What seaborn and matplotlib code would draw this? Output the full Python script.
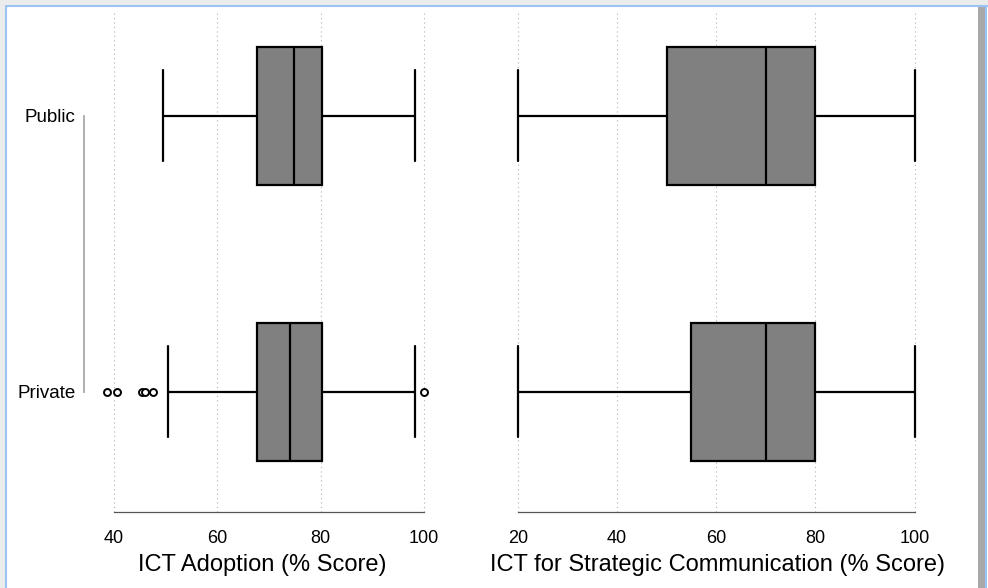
import pandas as pd
import matplotlib.pyplot as plt
import seaborn as sns
from matplotlib.patches import Rectangle
from matplotlib.lines import Line2D

groups = ["Public", "Private"]

adopt_public = [49.5, 67.6, 74.8, 80.2, 98.3]
adopt_private = [38.6, 40.5, 45.5, 46.1, 47.6, 50.5,
                 67.6, 67.6, 67.6,
                 74.0, 74.0, 74.0, 74.0, 74.0, 74.0, 74.0,
                 80.2, 80.2, 80.2, 80.2, 80.2, 80.2, 80.2,
                 98.2, 100.0]

# ICT for strategic communication (% score)
comm_public = [20, 50, 70, 80, 100]
comm_private = [20, 55, 70, 80, 100]

adopt_ticks = [40, 60, 80, 100]
comm_ticks = [20, 40, 60, 80, 100]


def long_df(public, private):
    return pd.DataFrame({
        "group": ["Public"] * len(public) + ["Private"] * len(private),
        "score": list(public) + list(private),
    })


sns.set_style("white")
plt.rcParams["font.family"] = ["Liberation Sans", "DejaVu Sans"]
plt.rcParams["text.color"] = "black"
plt.rcParams["axes.labelcolor"] = "black"
plt.rcParams["xtick.labelcolor"] = "black"
plt.rcParams["ytick.labelcolor"] = "black"

fig = plt.figure(figsize=(9.88, 5.88), dpi=100)

# window frame around the graph
fig.patches.append(Rectangle((0, 0), 1, 1, transform=fig.transFigure,
                             facecolor="white", edgecolor="none", zorder=-10))
fig.patches.append(Rectangle((0, 1 - 5 / 588), 1, 5 / 588, transform=fig.transFigure,
                             facecolor="#ececec", edgecolor="none", zorder=-5))
fig.patches.append(Rectangle((0, 0), 5 / 988, 1, transform=fig.transFigure,
                             facecolor="#ececec", edgecolor="none", zorder=-5))
fig.patches.append(Rectangle((978 / 988, 0), 8 / 988, 1 - 6 / 588, transform=fig.transFigure,
                             facecolor="#a8a8a8", edgecolor="none", zorder=-5))
fig.lines.append(Line2D([5.5 / 988, 1], [1 - 6 / 588, 1 - 6 / 588], transform=fig.transFigure,
                        color="#9cc3f5", lw=1.5))
fig.lines.append(Line2D([6 / 988, 6 / 988], [0, 1 - 6 / 588], transform=fig.transFigure,
                        color="#9cc3f5", lw=1.5))
fig.lines.append(Line2D([986 / 988, 986 / 988], [0, 1 - 6 / 588], transform=fig.transFigure,
                        color="#9cc3f5", lw=1.5))

ax1 = fig.add_axes([84 / 988, 0.1293, 356 / 988, 0.854])
ax2 = fig.add_axes([505 / 988, 0.1293, 425 / 988, 0.854])

panels = [
    (ax1, adopt_public, adopt_private, adopt_ticks, (34.2, 103.1), "ICT Adoption (% Score)"),
    (ax2, comm_public, comm_private, comm_ticks, (17.4, 103.1), "ICT for Strategic Communication (% Score)"),
]

for ax, pub, priv, ticks, xlim, label in panels:
    df = long_df(pub, priv)
    sns.boxplot(data=df, x="score", y="group", order=groups, ax=ax,
                width=0.5, color="#808080", saturation=1, linecolor="black",
                linewidth=1.6, fliersize=5, capwidths=0.33,
                flierprops=dict(marker="o", markerfacecolor="white",
                                markeredgecolor="black", markeredgewidth=1.4))
    ax.set_xlim(*xlim)
    ax.set_ylim(1.435, -0.384)
    ax.set_xticks(ticks)
    ax.set_xticklabels([str(t) for t in ticks], fontsize=13)
    ax.set_xlabel(label, fontsize=17, labelpad=5)
    ax.set_ylabel("")
    ax.grid(axis="x", linestyle=(0, (1, 3)), color="#b0b0b0", linewidth=0.8)
    ax.set_axisbelow(True)
    ax.tick_params(axis="x", length=7, width=0.8, color="#999999", pad=6)
    ax.spines["top"].set_visible(False)
    ax.spines["right"].set_visible(False)
    ax.spines["bottom"].set_bounds(ticks[0], ticks[-1])
    ax.spines["bottom"].set_color("#555555")
    ax.spines["bottom"].set_linewidth(0.9)

ax1.spines["left"].set_bounds(0, 1)
ax1.spines["left"].set_color("#a8a8a8")
ax1.spines["left"].set_linewidth(1.3)
ax1.tick_params(axis="y", length=0, pad=6, labelsize=13.5)

ax2.spines["left"].set_visible(False)
ax2.set_yticks([])

fig.savefig("out.png", dpi=100)
